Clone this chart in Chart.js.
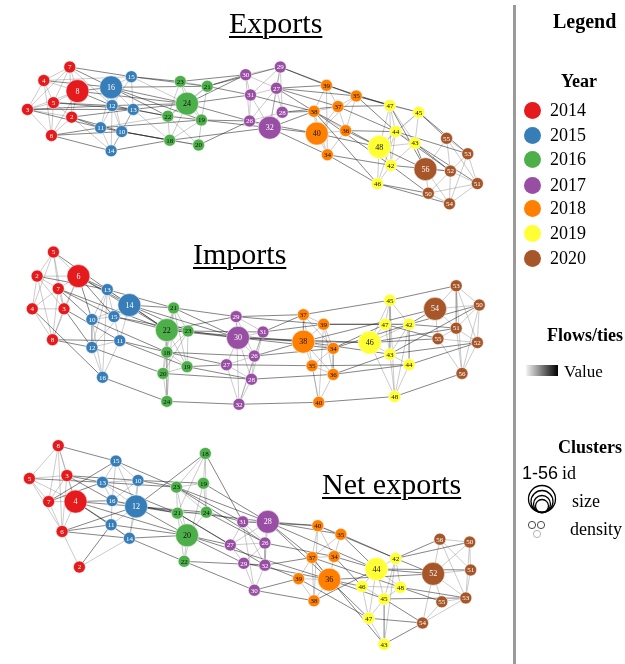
<!DOCTYPE html>
<html><head><meta charset="utf-8">
<script src="https://cdn.jsdelivr.net/npm/chart.js@4.4.0/dist/chart.umd.min.js"></script>
<style>
body{margin:0;background:#fff;}
#wrap{position:relative;width:625px;height:664px;overflow:hidden;font-family:"Liberation Serif","Times New Roman",serif;color:#000;}
#c{position:absolute;left:0;top:0;}
.t{position:absolute;white-space:nowrap;line-height:1;}
.u{text-decoration:underline;text-decoration-thickness:1.5px;text-underline-offset:3px;}
.dot{position:absolute;border-radius:50%;}
</style></head>
<body>
<div id="wrap">
<canvas id="c" width="625" height="664"></canvas>
<div id="divider" style="position:absolute;left:513px;top:5px;width:2.5px;height:659px;background:#9a9a9a;"></div>
<div id="grad" style="position:absolute;left:526px;top:365px;width:32px;height:11px;background:linear-gradient(to right,#f4f4f4,#000);"></div>
<svg style="position:absolute;left:524px;top:484px;" width="36" height="30">
  <circle cx="18" cy="15" r="13.5" fill="none" stroke="#000" stroke-width="1.3"/>
  <circle cx="18" cy="17.5" r="11" fill="none" stroke="#000" stroke-width="1.3"/>
  <circle cx="18" cy="20" r="8.5" fill="none" stroke="#000" stroke-width="1.3"/>
  <circle cx="18" cy="22" r="6.5" fill="none" stroke="#000" stroke-width="1.3"/>
</svg>
<svg style="position:absolute;left:526px;top:519px;" width="22" height="22">
  <circle cx="6" cy="6" r="3.6" fill="none" stroke="#333" stroke-width="0.9"/>
  <circle cx="15" cy="6" r="3.6" fill="none" stroke="#333" stroke-width="0.9"/>
  <circle cx="11" cy="15" r="3.6" fill="none" stroke="#aaa" stroke-width="0.9"/>
</svg>
</div>
<script>
// ---------- DATA ----------
const years = ["2014","2015","2016","2017","2018","2019","2020"];
const yearColors = ["#e41a1c","#377eb8","#4daf4a","#984ea3","#ff7f00","#ffff33","#a65628"];
const panelTitles = ["Exports","Imports","Net exports"];
const nodeIds = [2,3,4,5,6,7,8, 10,11,12,13,14,15,16, 18,19,20,21,22,23,24, 26,27,28,29,30,31,32, 34,35,36,37,38,39,40, 42,43,44,45,46,47,48, 50,51,52,53,54,55,56];

// Exports layout
const exportsX = [62,16,33,43,41,60,68, 114,92,104,126,103,124,103, 164,197,194,203,162,175,182, 247,275,281,279,243,248,268, 328,358,347,339,314,327,317, 394,419,399,423,380,393,382, 433,484,456,474,455,452,430];
const exportsY = [109,101,71,94,128,57,82, 124,120,97,101,144,67,78, 133,112,138,77,108,72,95, 113,79,104,57,65,86,120, 148,87,123,98,103,76,126, 159,136,124,104,178,97,140, 188,178,165,147,199,131,163];
const exportsSize = [1,1,1,1,1,1,2, 1,1,1,1,1,1,2, 1,1,1,1,1,1,2, 1,1,1,1,1,1,2, 1,1,1,1,1,1,2, 1,1,1,1,1,1,2, 1,1,1,1,1,1,2];

// Imports layout
const importsX = [26,54,21,43,69,48,42, 83,112,83,99,122,106,94, 161,182,157,168,161,183,161, 252,223,249,233,235,261,236, 334,312,334,303,303,324,319, 413,393,413,393,372,388,398, 486,462,484,462,440,443,468];
const importsY = [274,308,308,249,274,287,340, 319,341,348,288,304,316,379, 353,368,375,307,330,331,404, 357,366,381,316,338,332,407, 349,367,376,314,342,324,405, 324,355,366,299,343,324,399, 304,328,343,284,308,339,375];
const importsSize = [1,1,1,1,2,1,1, 1,1,1,1,2,1,1, 1,1,1,1,2,1,1, 1,1,1,1,2,1,1, 1,1,1,1,2,1,1, 1,1,1,1,2,1,1, 1,1,1,1,2,1,1];

// Net exports layout
const netX = [70,57,66,18,52,38,48, 131,103,129,94,122,108,104, 201,199,182,172,179,171,202, 263,227,266,241,252,240,263, 335,342,330,312,314,298,318, 399,387,379,387,364,371,404, 476,477,438,472,427,447,445];
const netY = [576,481,508,484,539,508,450, 486,532,513,488,546,466,507, 458,489,543,520,570,493,519, 551,553,529,572,600,529,574, 565,542,589,566,611,588,533, 567,656,578,609,596,629,597, 550,579,583,608,634,612,547];
const netSize = [1,1,2,1,1,1,1, 1,1,2,1,1,1,1, 1,1,2,1,1,1,1, 1,1,2,1,1,1,1, 1,1,2,1,1,1,1, 1,1,2,1,1,1,1, 1,1,2,1,1,1,1];

// Ties (flows): weaker within-year ties and stronger between-year ties
const exportsWeak = "7-4 7-8 7-5 7-2 7-3 4-5 4-3 4-8 4-6 8-5 8-2 5-3 5-2 5-6 3-6 3-2 2-6 8-6 3-8 15-16 15-12 15-13 16-12 16-13 16-11 12-13 12-11 12-10 13-10 11-10 11-14 10-14 12-14 13-14 16-10 23-21 23-24 23-22 21-24 21-19 24-22 24-19 24-18 22-18 19-18 19-20 18-20 22-20 21-22 30-29 30-27 30-31 29-27 29-31 27-31 27-28 27-26 27-32 31-26 31-32 28-32 26-32 28-26 29-28 39-35 39-37 39-38 35-37 35-36 37-38 37-36 38-40 38-34 37-40 40-36 40-34 36-34 38-36 47-45 47-44 47-48 45-44 45-43 44-43 44-48 44-42 43-48 43-42 48-42 48-46 42-46 47-43 55-53 55-56 55-52 53-52 53-51 56-52 56-50 56-54 52-51 52-50 52-54 51-54 50-54 51-50 7-12 4-15 2-14 11-22 13-18 15-24 23-19 30-26 29-32 39-34 35-40 47-42 45-48 55-51 53-54 44-46";
const exportsStrong = "7-15 7-16 8-16 8-12 5-12 5-13 3-12 3-11 2-11 2-10 6-14 6-11 6-10 4-16 2-13 15-23 15-21 16-24 16-19 12-24 12-22 13-22 13-24 11-19 11-18 10-18 10-20 14-18 16-22 23-30 21-30 21-31 24-26 24-31 19-26 20-26 24-30 18-32 22-32 29-39 29-35 27-39 27-35 27-38 28-38 28-37 32-40 26-40 32-34 31-38 32-38 35-47 35-45 37-44 38-46 40-48 36-44 34-42 37-47 39-47 38-42 36-48 34-46 45-55 44-52 43-52 43-56 48-56 42-50 46-50 46-54 43-51 44-53 45-53 42-52 3-13 8-24 16-21 21-29 27-37 38-48 35-44 47-56";
const importsWeak = "5-2 5-6 5-7 2-6 2-7 2-4 2-3 6-7 6-3 7-4 7-3 7-8 4-3 4-8 3-8 6-8 5-3 13-14 13-10 13-15 14-15 14-11 10-15 10-12 15-11 12-11 12-16 11-16 10-16 13-12 14-10 21-22 21-23 21-18 22-23 22-18 23-18 23-19 18-19 18-20 19-20 20-24 18-24 22-20 23-20 21-19 29-30 29-31 30-31 30-27 30-26 30-28 31-26 27-26 27-28 26-28 27-32 28-32 26-32 29-26 31-28 37-39 37-38 39-38 39-34 38-34 38-35 38-36 34-35 34-36 35-36 35-40 36-40 37-34 39-36 45-47 45-42 45-46 45-43 47-42 47-46 47-43 42-46 42-43 42-44 46-43 43-44 43-48 44-48 46-48 53-54 53-50 53-51 54-50 54-51 54-55 50-51 50-52 51-55 51-52 55-52 55-56 52-56 51-56 53-52 5-4 2-8 13-16 14-12 21-24 22-19 29-32 31-32 37-40 39-40 45-48 42-48 53-56 50-56";
const importsStrong = "5-13 6-13 6-14 6-10 7-15 7-10 2-13 3-11 3-12 4-16 8-12 8-11 6-15 7-22 13-21 14-21 14-22 15-22 15-23 10-18 12-20 11-19 16-24 14-23 11-18 13-22 21-29 21-30 22-30 23-30 23-31 18-26 19-27 19-28 20-28 24-32 18-27 22-29 29-37 31-37 31-39 30-38 30-34 26-34 27-35 28-36 32-40 29-39 26-38 37-45 39-47 39-42 38-46 34-42 34-47 35-44 36-44 40-48 38-43 36-43 45-53 42-54 42-50 42-51 47-55 46-55 43-52 44-52 48-56 46-51 43-50 6-22 14-30 22-38 30-46 38-54";
const netWeak = "8-5 8-3 8-7 8-4 5-3 5-7 5-4 5-6 3-7 3-4 7-4 7-6 4-6 6-2 3-6 15-13 15-10 15-16 15-12 13-10 13-16 13-12 10-16 10-12 16-12 16-11 12-11 12-14 11-14 10-14 18-19 18-23 18-21 19-23 19-24 23-21 23-24 23-20 21-24 21-20 24-20 20-22 21-22 31-28 31-27 31-26 28-26 28-27 27-29 27-26 26-29 26-32 29-32 29-30 32-30 31-32 28-32 40-35 40-37 40-34 35-34 35-37 37-34 37-39 37-36 34-36 39-36 39-38 36-38 37-38 42-44 42-48 42-45 44-46 44-48 44-45 46-45 46-47 48-45 45-47 45-43 47-43 46-48 44-47 56-50 56-52 56-51 50-52 50-51 50-53 52-51 52-55 52-53 52-54 51-53 55-53 55-54 54-53 8-6 2-14 18-24 19-22 31-30 40-38 42-43 56-53";
const netStrong = "5-13 3-13 3-10 3-16 7-15 7-13 4-16 4-12 4-11 4-14 6-11 6-14 6-12 2-11 8-15 15-23 13-23 10-19 10-23 12-18 12-21 12-24 12-20 16-21 11-20 14-22 14-20 13-21 18-31 19-28 23-28 23-26 21-27 21-32 24-31 20-29 20-27 22-30 24-26 22-32 23-31 28-40 28-35 28-37 26-34 32-37 32-39 30-38 30-39 31-40 29-36 28-36 40-42 35-42 35-44 34-44 34-46 37-48 36-46 36-45 38-44 39-47 37-43 36-47 42-56 42-50 44-52 44-51 48-53 48-55 45-54 45-53 47-54 43-54 42-52 4-20 12-28 20-36 28-44 36-52";

// ---------- BUILD ----------
const panels = [
  {x: exportsX, y: exportsY, size: exportsSize, weak: exportsWeak, strong: exportsStrong},
  {x: importsX, y: importsY, size: importsSize, weak: importsWeak, strong: importsStrong},
  {x: netX, y: netY, size: netSize, weak: netWeak, strong: netStrong}
];
function yearIndex(id){ return Math.floor((id - 1) / 8); }
function edgePoints(panel, str){
  const pts = [];
  str.trim().split(/\s+/).forEach(pair => {
    const [a, b] = pair.split("-").map(Number);
    const ia = nodeIds.indexOf(a), ib = nodeIds.indexOf(b);
    if (ia < 0 || ib < 0) return;
    pts.push({x: panel.x[ia], y: panel.y[ia]});
    pts.push({x: panel.x[ib], y: panel.y[ib]});
    pts.push({x: null, y: null});
  });
  return pts;
}
const datasets = [];
panels.forEach((p, pi) => {
  datasets.push({type: "scatter", label: panelTitles[pi] + " weak", data: edgePoints(p, p.weak), showLine: true,
    borderColor: "rgba(105,105,105,0.5)", borderWidth: 0.7, pointRadius: 0, spanGaps: false, order: 3});
  datasets.push({type: "scatter", label: panelTitles[pi] + " strong", data: edgePoints(p, p.strong), showLine: true,
    borderColor: "rgba(30,30,30,0.72)", borderWidth: 0.75, pointRadius: 0, spanGaps: false, order: 2});
});
years.forEach((yr, yi) => {
  const pts = [];
  panels.forEach(p => {
    nodeIds.forEach((id, i) => {
      if (yearIndex(id) !== yi) return;
      pts.push({x: p.x[i], y: p.y[i], r: p.size[i] === 2 ? 11.5 : 6, id: id});
    });
  });
  datasets.push({type: "bubble", label: yr, data: pts, backgroundColor: yearColors[yi],
    borderColor: "rgba(255,255,255,0.9)", borderWidth: 0.6, hoverRadius: 0, isNodes: true, order: 0});
});

const darkText = new Set([2, 4, 5]);
const labelPlugin = {
  id: "nodeLabels",
  afterDatasetsDraw(chart){
    const ctx = chart.ctx, xs = chart.scales.x, ys = chart.scales.y;
    ctx.save();
    ctx.textAlign = "center"; ctx.textBaseline = "middle";
    chart.data.datasets.forEach((ds, di) => {
      if (!ds.isNodes) return;
      const yi = years.indexOf(ds.label);
      ctx.fillStyle = darkText.has(yi) ? "#111" : "#fff";
      ds.data.forEach(pt => {
        ctx.font = (pt.r > 8 ? "8px" : "7px") + " 'Liberation Serif', serif";
        ctx.fillText(String(pt.id), xs.getPixelForValue(pt.x), ys.getPixelForValue(pt.y) + 0.5);
      });
    });
    ctx.restore();
  }
};

new Chart(document.getElementById("c"), {
  type: "scatter",
  data: {datasets},
  options: {
    responsive: false, animation: false, devicePixelRatio: 1,
    layout: {padding: 0},
    events: [],
    plugins: {legend: {display: false}, tooltip: {enabled: false}},
    scales: {
      x: {type: "linear", min: 0, max: 625, display: false},
      y: {type: "linear", min: 0, max: 664, reverse: true, display: false}
    }
  },
  plugins: [labelPlugin]
});

// ---------- TEXT ----------
const wrap = document.getElementById("wrap");
function addText(txt, left, baseline, size, opts){
  opts = opts || {};
  const d = document.createElement("div");
  d.className = "t" + (opts.u ? " u" : "");
  d.textContent = txt;
  const sans = opts.sans;
  d.style.fontFamily = sans ? "'Liberation Sans', Arial, sans-serif" : "'Liberation Serif', 'Times New Roman', serif";
  d.style.fontSize = size + "px";
  if (opts.bold) d.style.fontWeight = "bold";
  d.style.left = left + "px";
  d.style.top = (baseline - (sans ? 0.8465 : 0.8375) * size) + "px";
  wrap.appendChild(d);
}
const titlePos = [[229, 33], [193, 264], [322, 494]];
panelTitles.forEach((t, i) => addText(t, titlePos[i][0], titlePos[i][1], 30, {u: true}));

addText("Legend", 553, 28, 20, {bold: true});
addText("Year", 561, 87, 18, {bold: true});
const yearY = [110, 135, 159, 185, 208, 233, 258];
years.forEach((yr, i) => {
  const c = document.createElement("div");
  c.className = "dot";
  c.style.left = (532 - 8.5) + "px"; c.style.top = (yearY[i] - 8.5) + "px";
  c.style.width = "17px"; c.style.height = "17px"; c.style.background = yearColors[i];
  wrap.appendChild(c);
  addText(yr, 550, yearY[i] + 6.5, 18);
});
addText("Flows/ties", 547, 341, 18, {bold: true});
addText("Value", 564, 377, 17);
addText("Clusters", 558, 453, 18, {bold: true});
addText("1-56", 522, 479, 18, {sans: true});
addText("id", 562, 479, 18);
addText("size", 572, 507, 18);
addText("density", 570, 535, 18);
</script>
</body></html>
